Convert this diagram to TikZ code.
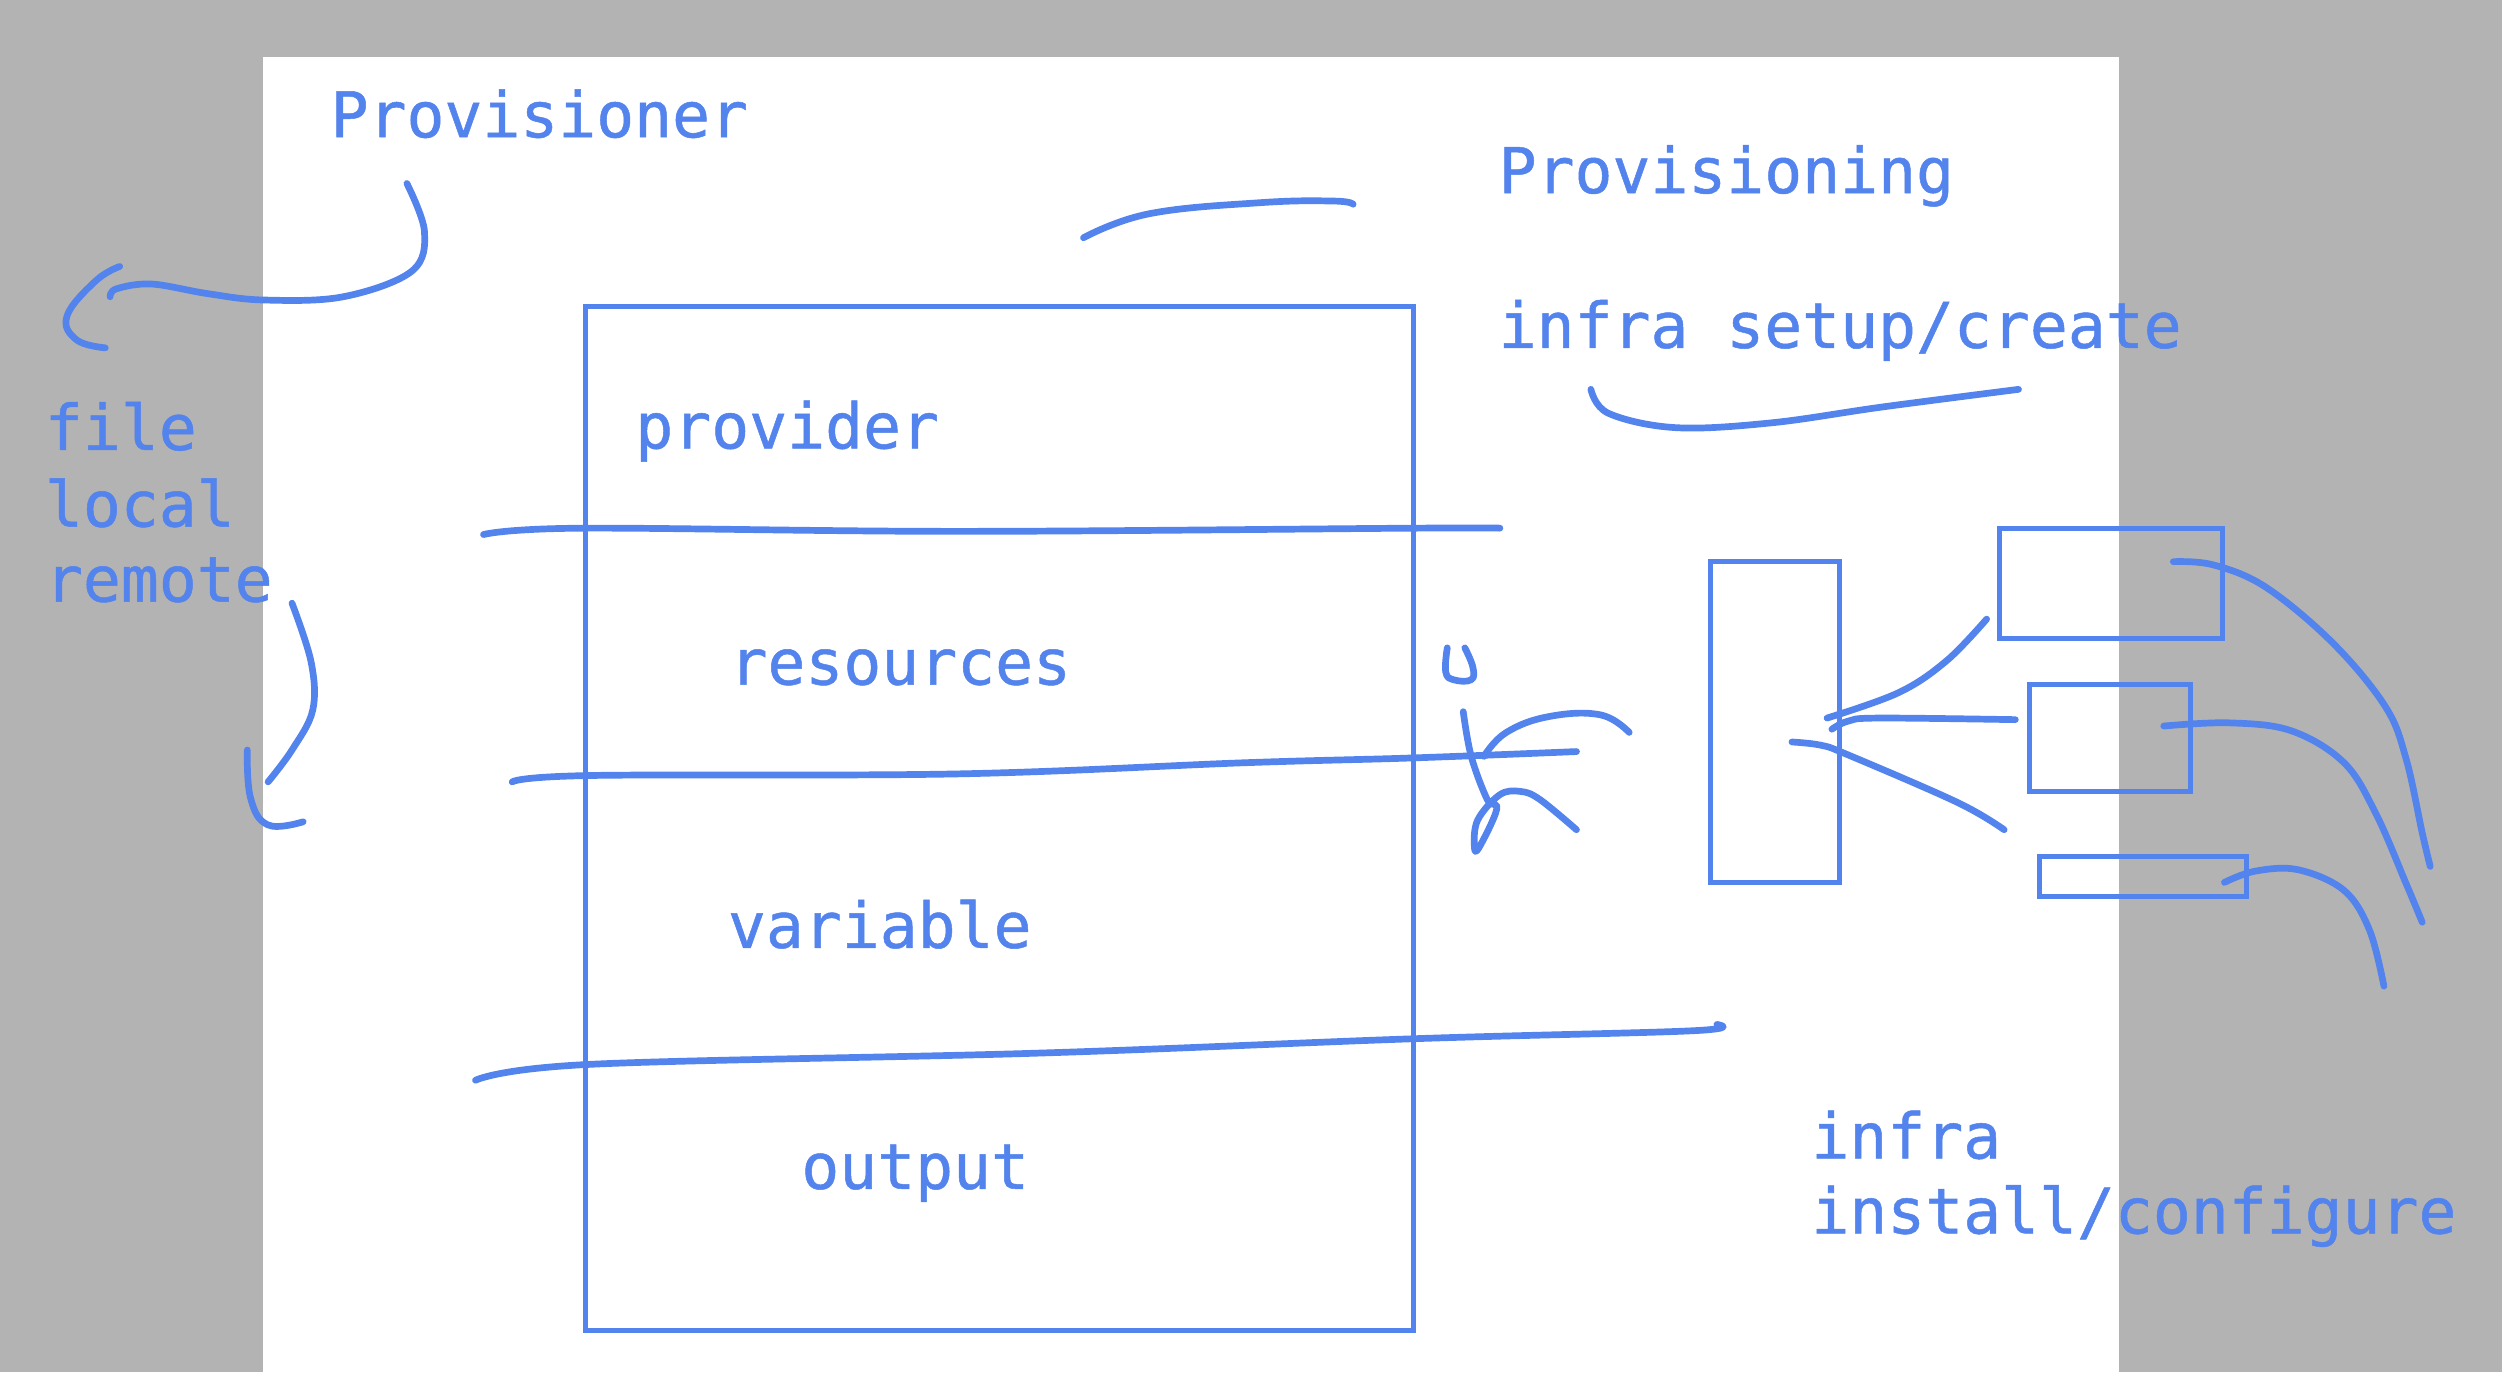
\documentclass[tikz,border=0pt]{standalone}
\usepackage{fontspec}
\newfontfamily\handmono[FakeBold=0.8]{DejaVu Sans Mono}
\definecolor{ink}{HTML}{5383EC}
\definecolor{bggray}{HTML}{B3B3B3}
\begin{document}
\begin{tikzpicture}[x=1pt,y=-1pt,
  lbl/.style={inner sep=0pt,anchor=base west,text=ink,font=\handmono\fontsize{39.5}{48}\selectfont},
  pen/.style={draw=ink,line width=4.2pt,line cap=round,line join=round},
  boxline/.style={draw=ink,line width=3pt}]
\useasboundingbox (0,0) rectangle (1568,860);
\fill[bggray] (0,0) rectangle (1568,860);
\fill[white] (165,36) rectangle (1328,860);
% texts
\node[lbl] (provisioner) at (207,86) {Provisioner};
\node[lbl] (provisioning) at (939,121) {Provisioning};
\node[lbl] (setup) at (939,218) {infra setup/create};
\node[lbl] (provider) at (398,281) {provider};
\node[lbl] (resources) at (457,429) {resources};
\node[lbl] (variable) at (456,594) {variable};
\node[lbl] (output) at (502,745) {output};
\node[lbl] (file) at (28,282) {file};
\node[lbl] (local) at (28,330) {local};
\node[lbl] (remote) at (28,377) {remote};
\node[lbl] (infra) at (1135,726) {infra};
\node[lbl] (install) at (1135,773) {install/configure};
% main block
\draw[boxline] (367,192) rectangle (886,834);
% dividing strokes
\draw[pen] plot[smooth,tension=0.6] coordinates {(303,335) (365,331) (600,333) (885,331) (940,331)};
\draw[pen] plot[smooth,tension=0.6] coordinates {(321,490) (370,486) (600,485) (780,478) (885,475) (988,471)};
\draw[pen] plot[smooth,tension=0.6] coordinates {(298,677) (370,667) (650,660) (885,651) (1060,646) (1076,642)};
% arc above block
\draw[pen] plot[smooth,tension=0.7] coordinates {(679,149) (720,134) (790,127) (836,126) (848,128)};
% underline of infra setup/create
\draw[pen] plot[smooth,tension=0.6] coordinates {(997,244) (1008,259) (1050,268) (1110,265) (1180,255) (1265,244)};
% Provisioner arrow
\draw[pen] plot[smooth,tension=0.6] coordinates {(255,115) (266,145) (258,170) (215,186) (165,188) (130,184) (95,178) (73,181) (69,186)};
\draw[pen] plot[smooth,tension=0.7] coordinates {(75,167) (60,176) (42,198) (48,213) (66,218)};
% remote arrow
\draw[pen] plot[smooth,tension=0.6] coordinates {(183,378) (195,415) (196,445) (183,470) (168,490)};
\draw[pen] plot[smooth,tension=0.7] coordinates {(155,470) (157,500) (168,517) (190,515)};
% scribble near block edge
\draw[pen] plot[smooth,tension=0.7] coordinates {(907,406) (906,421) (911,426) (922,426) (923,418) (918,406)};
\draw[pen] plot[smooth,tension=0.6] coordinates {(917,446) (922,474) (932,501) (938,507) (927,531) (924,531) (926,514) (940,498) (953,496) (965,501) (988,520)};
\draw[pen] plot[smooth,tension=0.7] coordinates {(930,474) (944,459) (971,449) (1003,448) (1021,459)};
% right side boxes
\draw[boxline] (1072,352) rectangle (1153,553);
\draw[boxline] (1253,331) rectangle (1393,400);
\draw[boxline] (1272,429) rectangle (1373,496);
\draw[boxline] (1278,537) rectangle (1408,562);
% links
\draw[pen] plot[smooth,tension=0.6] coordinates {(1145,450) (1190,434) (1220,414) (1245,388)};
\draw[pen] plot[smooth,tension=0.6] coordinates {(1148,457) (1158,452) (1177,450) (1263,451)};
\draw[pen] plot[smooth,tension=0.6] coordinates {(1123,465) (1141,467) (1158,473) (1227,503) (1256,520)};
% right curves
\draw[pen] plot[smooth,tension=0.6] coordinates {(1362,352) (1387,354) (1420,368) (1462,403) (1495,443) (1508,476) (1518,522) (1523,543)};
\draw[pen] plot[smooth,tension=0.6] coordinates {(1356,455) (1397,453) (1436,458) (1469,478) (1489,510) (1508,554) (1518,578)};
\draw[pen] plot[smooth,tension=0.6] coordinates {(1394,553) (1413,546) (1440,545) (1469,558) (1485,583) (1494,618)};
\end{tikzpicture}
\end{document}
